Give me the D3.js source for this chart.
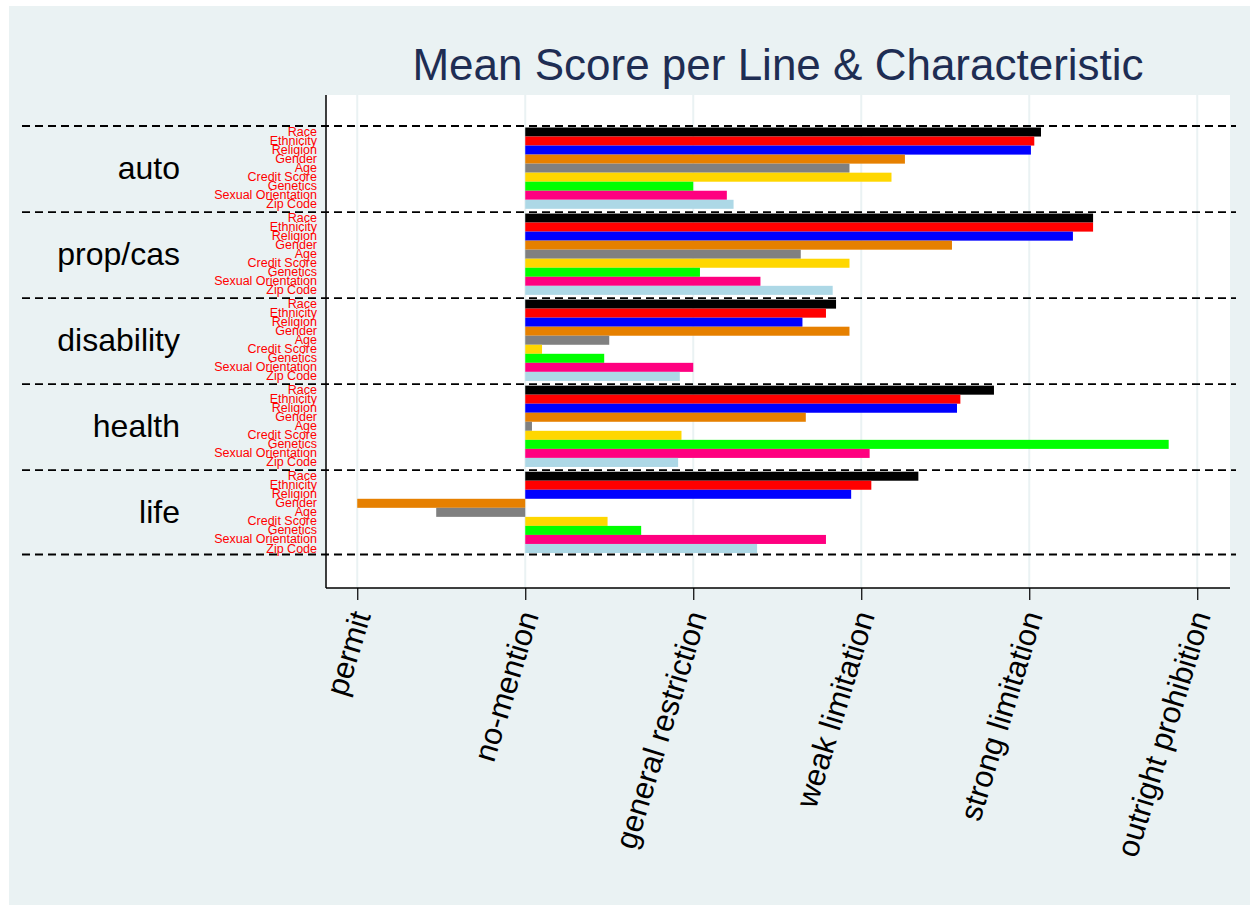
<!DOCTYPE html>
<html>
<head>
<meta charset="utf-8">
<script src="https://cdn.jsdelivr.net/npm/d3@7"></script>
<style>
  body { margin: 0; background: #fff; }
  text { font-family: "Liberation Sans", Arial, sans-serif; }
</style>
</head>
<body>
<div id="visualization"></div>
<script>
// insurance lines (groups), top to bottom
const lines = ["auto", "prop/cas", "disability", "health", "life"];
const characteristics = ["Race", "Ethnicity", "Religion", "Gender", "Age",
  "Credit Score", "Genetics", "Sexual Orientation", "Zip Code"];
const barColors = ["#000000", "#ff0000", "#0000ff", "#e68000", "#808080",
  "#ffd700", "#00ff00", "#ff0080", "#add8e6"];

// mean score per characteristic, same order as characteristics
const autoScores       = [3.07, 3.03, 3.01, 2.26, 1.93, 2.18, 1.00, 1.20, 1.24];
const propcasScores    = [3.38, 3.38, 3.26, 2.54, 1.64, 1.93, 1.04, 1.40, 1.83];
const disabilityScores = [1.85, 1.79, 1.65, 1.93, 0.50, 0.10, 0.47, 1.00, 0.92];
const healthScores     = [2.79, 2.59, 2.57, 1.67, 0.04, 0.93, 3.83, 2.05, 0.91];
const lifeScores       = [2.34, 2.06, 1.94, -1.00, -0.53, 0.49, 0.69, 1.79, 1.38];

const tickValues = [-1, 0, 1, 2, 3, 4];
const tickLabels = ["permit", "no-mention", "general restriction",
  "weak limitation", "strong limitation", "outright prohibition"];

const scoresByLine = [autoScores, propcasScores, disabilityScores, healthScores, lifeScores];
const data = [];
lines.forEach((l, i) => {
  characteristics.forEach((c, j) => {
    data.push({line: l, char: c, score: scoresByLine[i][j], color: barColors[j]});
  });
});

const W = 1260, H = 913;
const plot = {left: 326, right: 1230, top: 95, bottom: 588};

const svg = d3.select("#visualization")
  .append("svg")
    .attr("width", W)
    .attr("height", H);

// outer graph region
svg.append("rect")
    .attr("x", 9).attr("y", 6)
    .attr("width", 1241).attr("height", 899)
    .attr("fill", "#eaf2f3");

// plot region
svg.append("rect")
    .attr("x", plot.left).attr("y", plot.top)
    .attr("width", plot.right - plot.left)
    .attr("height", plot.bottom - plot.top)
    .attr("fill", "#ffffff");

const x = d3.scaleLinear()
    .domain([-1.186, 4.195])
    .range([plot.left, plot.right]);

const gy = d3.scaleBand()
    .domain(lines)
    .range([127.5, 553])
    .paddingInner(0.055);

const by = d3.scaleBand()
    .domain(characteristics)
    .range([0, gy.bandwidth()]);

// grid lines
svg.selectAll(".grid")
    .data(tickValues)
    .enter()
    .append("line")
    .attr("x1", d => x(d)).attr("x2", d => x(d))
    .attr("y1", plot.top).attr("y2", plot.bottom)
    .attr("stroke", "#eaf2f3")
    .attr("stroke-width", 2);

// bars
svg.selectAll(".bar")
    .data(data)
    .enter()
    .append("rect")
    .attr("x", d => x(Math.min(0, d.score)))
    .attr("y", d => gy(d.line) + by(d.char))
    .attr("width", d => Math.abs(x(d.score) - x(0)))
    .attr("height", by.bandwidth())
    .attr("fill", d => d.color);

// dashed separators between lines
const sepY = lines.map(l => gy(l) - 1.5)
    .concat([gy(lines[lines.length - 1]) + gy.bandwidth() + 1.5]);
svg.selectAll(".sep")
    .data(sepY)
    .enter()
    .append("line")
    .attr("x1", 22).attr("x2", 1236)
    .attr("y1", d => d).attr("y2", d => d)
    .attr("stroke", "#000")
    .attr("stroke-width", 1.8)
    .attr("stroke-dasharray", "8,5");

// characteristic labels
svg.selectAll(".clab")
    .data(data)
    .enter()
    .append("text")
    .attr("x", 317)
    .attr("y", d => gy(d.line) + by(d.char) + by.bandwidth() - 0.5)
    .attr("text-anchor", "end")
    .attr("font-size", 12.5)
    .attr("fill", "#ff0000")
    .text(d => d.char);

// line labels
svg.selectAll(".glab")
    .data(lines)
    .enter()
    .append("text")
    .attr("x", 180)
    .attr("y", d => gy(d) + gy.bandwidth() / 2 + 11)
    .attr("text-anchor", "end")
    .attr("font-size", 32)
    .attr("fill", "#000")
    .text(d => d);

// axes
svg.append("line")
    .attr("x1", plot.left).attr("x2", plot.left)
    .attr("y1", plot.top).attr("y2", plot.bottom)
    .attr("stroke", "#000").attr("stroke-width", 1.5);

const xAxis = svg.append("g")
    .attr("transform", "translate(0," + plot.bottom + ")")
    .call(d3.axisBottom(x)
      .tickValues(tickValues)
      .tickFormat((d, i) => tickLabels[i])
      .tickSize(12)
      .tickSizeOuter(0));

xAxis.select(".domain")
    .attr("d", "M" + plot.left + ",0H" + plot.right)
    .attr("stroke", "#000").attr("stroke-width", 1.5);
xAxis.selectAll(".tick line").attr("stroke", "#000").attr("stroke-width", 1.2);
xAxis.selectAll("text")
    .attr("x", 0).attr("y", 0).attr("dy", "0.35em")
    .attr("transform", "translate(3,24) rotate(-73)")
    .style("text-anchor", "end")
    .attr("font-size", 31)
    .attr("font-family", "Liberation Sans, Arial, sans-serif")
    .attr("fill", "#000");

// title
svg.append("text")
    .attr("x", (plot.left + plot.right) / 2)
    .attr("y", 80)
    .attr("text-anchor", "middle")
    .attr("font-size", 44)
    .attr("fill", "#1e2d53")
    .text("Mean Score per Line & Characteristic");
</script>
</body>
</html>
